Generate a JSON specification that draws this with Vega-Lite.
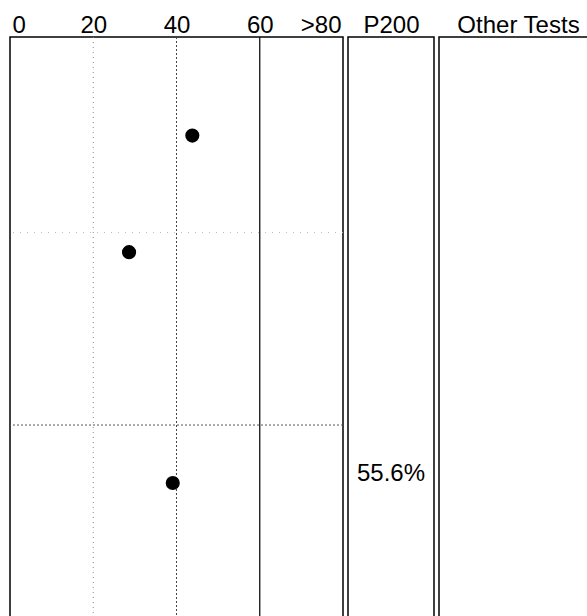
{
  "$schema": "https://vega.github.io/schema/vega-lite/v6.json",
  "padding": {"left": 8, "top": -26, "right": 0, "bottom": 0},
  "background": "white",
  "bounds": "flush",
  "datasets": {
    "points": [
      {"x": 43.8, "y": 17.0},
      {"x": 28.6, "y": 37.1},
      {"x": 39.1, "y": 76.9}
    ],
    "vgrid": [{"x": 20}, {"x": 40}, {"x": 60}],
    "hgrid": [{"y": 33.7}, {"y": 66.9}],
    "notes": [{"panel": "P200", "y": 75.3, "label": "55.6%"}],
    "headers": [{"panel": "P200"}, {"panel": "Other Tests"}]
  },
  "config": {
    "font": "Liberation Sans",
    "view": {"stroke": "black", "strokeWidth": 1.5},
    "axis": {
      "domain": false, "ticks": false, "tickSize": 0, "grid": false,
      "labelFont": "Liberation Sans", "labelFontSize": 24, "labelColor": "black",
      "labelPadding": 5, "labelBaseline": "alphabetic", "labelAngle": 0,
      "titleFont": "Liberation Sans", "titleFontSize": 24, "titleFontWeight": "normal", "titleColor": "black"
    },
    "concat": {"spacing": 5}
  },
  "hconcat": [
    {
      "width": 333,
      "height": 580,
      "layer": [
        {
          "data": {"name": "vgrid"},
          "transform": [{"filter": "datum.x == 20"}],
          "mark": {"type": "rule", "color": "#888", "strokeWidth": 1, "strokeDash": [1, 4]},
          "encoding": {
            "x": {
              "field": "x", "type": "quantitative",
              "scale": {"domain": [0, 80], "nice": false, "zero": false},
              "axis": {
                "orient": "top", "values": [0, 20, 40, 60, 80],
                "labelExpr": "datum.value == 80 ? '>80' : datum.label",
                "labelFlush": true, "labelFlushOffset": -2,
                "title": "(%)", "titleX": 245, "titleY": -43, "titleBaseline": "alphabetic", "titleAlign": "center", "titleAnchor": null
              }
            }
          }
        },
        {
          "data": {"name": "vgrid"},
          "transform": [{"filter": "datum.x == 40"}],
          "mark": {"type": "rule", "color": "#444", "strokeWidth": 1, "strokeDash": [2, 2]},
          "encoding": {"x": {"field": "x", "type": "quantitative"}}
        },
        {
          "data": {"name": "vgrid"},
          "transform": [{"filter": "datum.x == 60"}],
          "mark": {"type": "rule", "color": "#111", "strokeWidth": 1.3},
          "encoding": {"x": {"field": "x", "type": "quantitative"}}
        },
        {
          "data": {"name": "hgrid"},
          "transform": [{"filter": "datum.y < 50"}],
          "mark": {"type": "rule", "color": "#bbb", "strokeWidth": 1, "strokeDash": [1, 6]},
          "encoding": {
            "y": {"field": "y", "type": "quantitative", "scale": {"domain": [0, 100], "reverse": true, "nice": false, "zero": false}, "axis": null}
          }
        },
        {
          "data": {"name": "hgrid"},
          "transform": [{"filter": "datum.y > 50"}],
          "mark": {"type": "rule", "color": "#555", "strokeWidth": 1, "strokeDash": [2, 2]},
          "encoding": {"y": {"field": "y", "type": "quantitative"}}
        },
        {
          "data": {"name": "points"},
          "mark": {"type": "circle", "size": 200, "color": "black", "opacity": 1},
          "encoding": {
            "x": {"field": "x", "type": "quantitative"},
            "y": {"field": "y", "type": "quantitative"}
          }
        }
      ]
    },
    {
      "width": 86,
      "height": 580,
      "layer": [
        {
          "data": {"name": "headers"},
          "transform": [{"filter": "datum.panel == 'P200'"}],
          "mark": {"type": "point", "opacity": 0},
          "encoding": {
            "x": {"field": "panel", "type": "nominal", "axis": {"orient": "top", "title": null}}
          }
        },
        {
          "data": {"name": "notes"},
          "mark": {"type": "text", "fontSize": 24, "font": "Liberation Sans", "color": "black", "baseline": "middle", "align": "center"},
          "encoding": {
            "x": {"field": "panel", "type": "nominal"},
            "y": {"field": "y", "type": "quantitative", "scale": {"domain": [0, 100], "reverse": true, "nice": false, "zero": false}, "axis": null},
            "text": {"field": "label", "type": "nominal"}
          }
        }
      ]
    },
    {
      "width": 158,
      "height": 580,
      "data": {"name": "headers"},
      "transform": [{"filter": "datum.panel == 'Other Tests'"}],
      "mark": {"type": "point", "opacity": 0},
      "encoding": {
        "x": {"field": "panel", "type": "nominal", "axis": {"orient": "top", "title": null}}
      }
    }
  ]
}
